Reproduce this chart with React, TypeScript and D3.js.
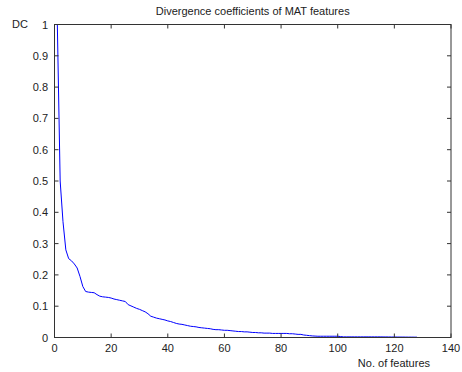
import React from "react";
import * as d3 from "d3";

const dcValues: number[] = [
  1.0, 0.5, 0.37, 0.28, 0.252, 0.245, 0.235, 0.222, 0.195, 0.163,
  0.147, 0.145, 0.144, 0.143, 0.137, 0.132, 0.13, 0.129, 0.128, 0.126,
  0.123, 0.121, 0.119, 0.117, 0.115, 0.105, 0.101, 0.097, 0.093, 0.09,
  0.086, 0.082, 0.076, 0.068, 0.065, 0.062, 0.06, 0.058, 0.056, 0.053,
  0.051, 0.048, 0.045, 0.043, 0.042, 0.04, 0.038, 0.036, 0.035, 0.034,
  0.032, 0.031, 0.03, 0.029, 0.028, 0.026, 0.025, 0.025, 0.024, 0.023,
  0.023, 0.022, 0.021, 0.02, 0.019, 0.019, 0.018, 0.018, 0.017, 0.016,
  0.016, 0.015, 0.015, 0.014, 0.014, 0.014, 0.013, 0.013, 0.013, 0.013,
  0.013, 0.013, 0.012, 0.012, 0.011, 0.01, 0.01, 0.008, 0.007, 0.006,
  0.005, 0.0045, 0.004, 0.004, 0.004, 0.004, 0.004, 0.004, 0.004, 0.004,
  0.003, 0.002, 0.002, 0.002, 0.002, 0.002, 0.002, 0.002, 0.002, 0.002,
  0.002, 0.002, 0.002, 0.002, 0.002, 0.0018, 0.0018, 0.0017, 0.0016, 0.0016,
  0.0015, 0.0014, 0.0014, 0.0013, 0.0012, 0.0012, 0.0011, 0.001,
];
const xTicks: number[] = [0, 20, 40, 60, 80, 100, 120, 140];
const yTicks: number[] = [0, 0.1, 0.2, 0.3, 0.4, 0.5, 0.6, 0.7, 0.8, 0.9, 1];
const titleText = "Divergence coefficients of MAT features";
const xLabel = "No. of features";
const yLabel = "DC";

export default function App() {
  const W = 462, H = 372;
  const L = 54.5, R = 451, T = 24.5, B = 337.5;
  const x = d3.scaleLinear().domain([0, 140]).range([L, R]);
  const y = d3.scaleLinear().domain([0, 1]).range([B, T]);
  const pts: [number, number][] = dcValues.map((v, i) => [i + 1, v]);
  const line = d3.line<[number, number]>().x(d => x(d[0])).y(d => y(d[1]));
  const font = "Liberation Sans, Arial, sans-serif";
  const axisColor = "#333";
  const tl = 4;
  return (
    <svg width={W} height={H} style={{ position: "absolute", left: 0, top: 0, background: "#fff" }}>
      <rect x={0} y={0} width={W} height={H} fill="#fff" />
      <path d={line(pts) || ""} fill="none" stroke="#0000ff" strokeWidth={1} />
      <rect x={L} y={T} width={R - L} height={B - T} fill="none" stroke={axisColor} strokeWidth={1} />
      {xTicks.map(t => (
        <g key={"x" + t}>
          <line x1={x(t)} x2={x(t)} y1={B} y2={B - tl} stroke={axisColor} />
          <line x1={x(t)} x2={x(t)} y1={T} y2={T + tl} stroke={axisColor} />
          <text x={x(t)} y={352} textAnchor="middle" fontFamily={font} fontSize={11} fill="#222">{t}</text>
        </g>
      ))}
      {yTicks.map(t => (
        <g key={"y" + t}>
          <line x1={L} x2={L + tl} y1={y(t)} y2={y(t)} stroke={axisColor} />
          <line x1={R} x2={R - tl} y1={y(t)} y2={y(t)} stroke={axisColor} />
          <text x={48} y={y(t) + 4} textAnchor="end" fontFamily={font} fontSize={11} fill="#222">{t === 0 || t === 1 ? String(t) : t.toFixed(1)}</text>
        </g>
      ))}
      <text x={(L + R) / 2} y={15} textAnchor="middle" fontFamily={font} fontSize={11} fill="#222">{titleText}</text>
      <text x={12} y={28} fontFamily={font} fontSize={11} fill="#222">{yLabel}</text>
      <text x={430} y={367} textAnchor="end" fontFamily={font} fontSize={11} fill="#222">{xLabel}</text>
    </svg>
  );
}
